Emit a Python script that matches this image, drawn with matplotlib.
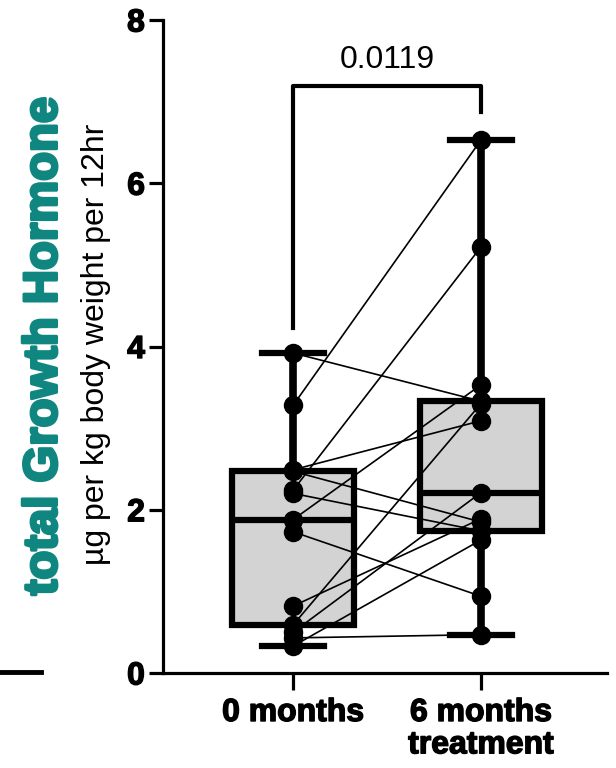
import matplotlib
matplotlib.use("Agg")
import matplotlib.pyplot as plt
from matplotlib.lines import Line2D
import matplotlib.patheffects as pe
import numpy as np

plt.rcParams['font.family'] = ['Liberation Sans', 'DejaVu Sans']

groups = ['0 months', '6 months\ntreatment']
month0 = [3.92, 3.28, 2.24, 2.49, 2.47, 2.20, 1.88, 1.73, 0.82, 0.59, 0.43, 0.33, 0.50]
month6 = [3.33, 6.53, 5.22, 3.09, 1.85, 1.74, 3.53, 0.94, 1.89, 3.30, 0.47, 1.63, 2.21]
p_value = '0.0119'
yticks = [0, 2, 4, 6, 8]
teal = '#108680'

fig = plt.figure(figsize=(6.16, 7.68), dpi=100)
ax = fig.add_axes([163/616, 1-673/768, (607-163)/616, (673-20)/768])

ax.boxplot([month0, month6], positions=[0, 1], widths=0.65, whis=(0, 100),
           patch_artist=True, showfliers=False,
           boxprops=dict(facecolor='#d3d3d3', edgecolor='black', linewidth=4.5),
           medianprops=dict(color='black', linewidth=4.5),
           whiskerprops=dict(color='black', linewidth=5.5),
           capprops=dict(color='black', linewidth=4.5),
           capwidths=0.33, zorder=2)

for a, b in zip(month0, month6):
    ax.plot([0, 1], [a, b], color='black', lw=1.2, zorder=3, clip_on=False)
ax.plot(np.zeros(len(month0)), month0, 'o', ms=13, color='black', zorder=4, clip_on=False)
ax.plot(np.ones(len(month6)), month6, 'o', ms=13, color='black', zorder=4, clip_on=False)

# significance bracket
ax.plot([0, 0, 1, 1], [4.23, 7.19, 7.19, 6.87], color='black', lw=3, clip_on=False)
ax.text(0.5, 7.51, p_value, ha='center', va='center', fontsize=23)

ax.set_xlim(-0.693, 1.671)
ax.set_ylim(0, 8)
ax.set_yticks(yticks)
ax.set_xticks([0, 1])
ax.set_xticklabels(groups)
for s in ['top', 'right']:
    ax.spines[s].set_visible(False)
for s in ['left', 'bottom']:
    ax.spines[s].set_linewidth(2.3)
ax.tick_params(axis='y', length=10, width=2.3, pad=3, labelsize=23)
ax.tick_params(axis='x', length=12, width=2.3, pad=6, labelsize=23)
heavy = [pe.withStroke(linewidth=1.0, foreground='black')]
for lbl in ax.get_xticklabels() + ax.get_yticklabels():
    lbl.set_fontweight('bold')
    lbl.set_path_effects(heavy)
for lbl in ax.get_xticklabels():
    lbl.set_linespacing(1.1)

fig.text(44.5/616, 1-346/768, 'total Growth Hormone', rotation=90, color=teal,
         fontsize=34, fontweight='bold', ha='center', va='center',
         path_effects=[pe.withStroke(linewidth=2.2, foreground=teal)])
fig.text(96/616, 1-344/768, 'µg per kg body weight per 12hr', rotation=90,
         color='black', fontsize=23, ha='center', va='center')

fig.add_artist(Line2D([0, 41/616], [1-672/768, 1-672/768], color='black', lw=3.5))

fig.savefig('out.png', dpi=100)
